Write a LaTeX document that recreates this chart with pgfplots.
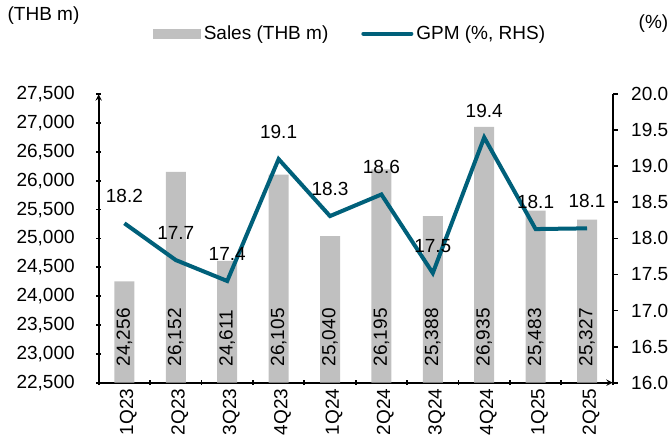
\documentclass[border=0pt]{standalone}
\usepackage{pgfplots}
\pgfplotsset{compat=1.18}
\usepackage{pgfplotstable}
\usepackage{fontspec}
\setmainfont{Liberation Sans}

\definecolor{barGray}{RGB}{192,192,192}
\definecolor{gpmBlue}{RGB}{0,96,122}

\pgfplotstableread{
x  sales  base   gpm
0  24256  22500  18.21
1  26152  22500  17.70
2  24611  22500  17.41
3  26105  22500  19.10
4  25040  22500  18.31
5  26195  22500  18.61
6  25388  22500  17.52
7  26935  22500  19.40
8  25483  22500  18.13
9  25327  22500  18.14
}\quarters

\pgfplotsset{
  common/.style={
    at={(98.7pt,60.3pt)}, anchor=south west,
    width=514pt, height=288.5pt, scale only axis,
    xmin=-0.5, xmax=9.5,
    clip mode=individual,
    tick align=outside,
    major tick length=5pt,
    axis line style={line width=1.8pt, black},
    every tick/.style={line width=1.8pt, black},
    /pgf/number format/assume math mode=true,
  }
}

\begin{document}
\begin{tikzpicture}[font=\fontsize{19}{22}\selectfont]
\path[use as bounding box] (0,0) rectangle (670pt,443pt);

% left axis: sales bars
\begin{axis}[common,
  axis x line=bottom, axis y line=left,
  ymin=22500, ymax=27500,
  ytick={22500,23000,...,27500},
  scaled y ticks=false,
  yticklabel style={/pgf/number format/fixed, /pgf/number format/1000 sep={,}, xshift=-18pt},
  xtick={-0.5,0.5,...,9.5}, xticklabels={},
  extra x ticks={0,...,9},
  extra x tick labels={1Q23,2Q23,3Q23,4Q23,1Q24,2Q24,3Q24,4Q24,1Q25,2Q25},
  extra x tick style={tick style={draw=none},
    tick label style={rotate=90, anchor=east, yshift=-4pt}},
]
\addplot[ybar, bar width=20pt, fill=barGray, draw=none] table[x=x, y=sales] {\quarters};
\addplot[draw=none, mark=none, point meta=\thisrow{sales},
  nodes near coords={\pgfmathprintnumber[fixed, 1000 sep={,}, assume math mode=true]{\pgfplotspointmeta}},
  every node near coord/.style={rotate=90, anchor=west, inner xsep=16pt, inner ysep=0pt, black}]
  table[x=x, y=base] {\quarters};
\node[anchor=west] at (rel axis cs:-0.184,1.271) {(THB m)};
\end{axis}

% right axis: gross profit margin
\begin{axis}[common,
  axis x line=none, axis y line*=right,
  ymin=16, ymax=20,
  ytick={16,16.5,...,20},
  yticklabel style={/pgf/number format/fixed, /pgf/number format/fixed zerofill,
    /pgf/number format/precision=1, xshift=10pt},
  legend columns=2,
  legend style={draw=none, fill=none, at={(rel axis cs:0.106,1.21)}, anchor=west,
    inner sep=0pt, /tikz/every even column/.append style={column sep=30pt},
    nodes={inner xsep=3pt}},
]
\addlegendimage{legend image code/.code={\fill[barGray] (0pt,-4.4pt) rectangle (47pt,4.4pt);}}
\addlegendentry{Sales (THB m)}
\addplot[gpmBlue, line width=4pt, mark=none, point meta=\thisrow{gpm},
  nodes near coords={\pgfmathprintnumber[fixed, fixed zerofill, precision=1, assume math mode=true]{\pgfplotspointmeta}},
  every node near coord/.style={anchor=center, yshift=27pt, black},
  legend image code/.code={\draw[gpmBlue, line width=4pt, line cap=round] (0pt,0pt) -- (48pt,0pt);}]
  table[x=x, y=gpm] {\quarters};
\addlegendentry{GPM (\%, RHS)}
\node[anchor=east] at (rel axis cs:1.115,1.245) {(\%)};
\end{axis}
\end{tikzpicture}
\end{document}
